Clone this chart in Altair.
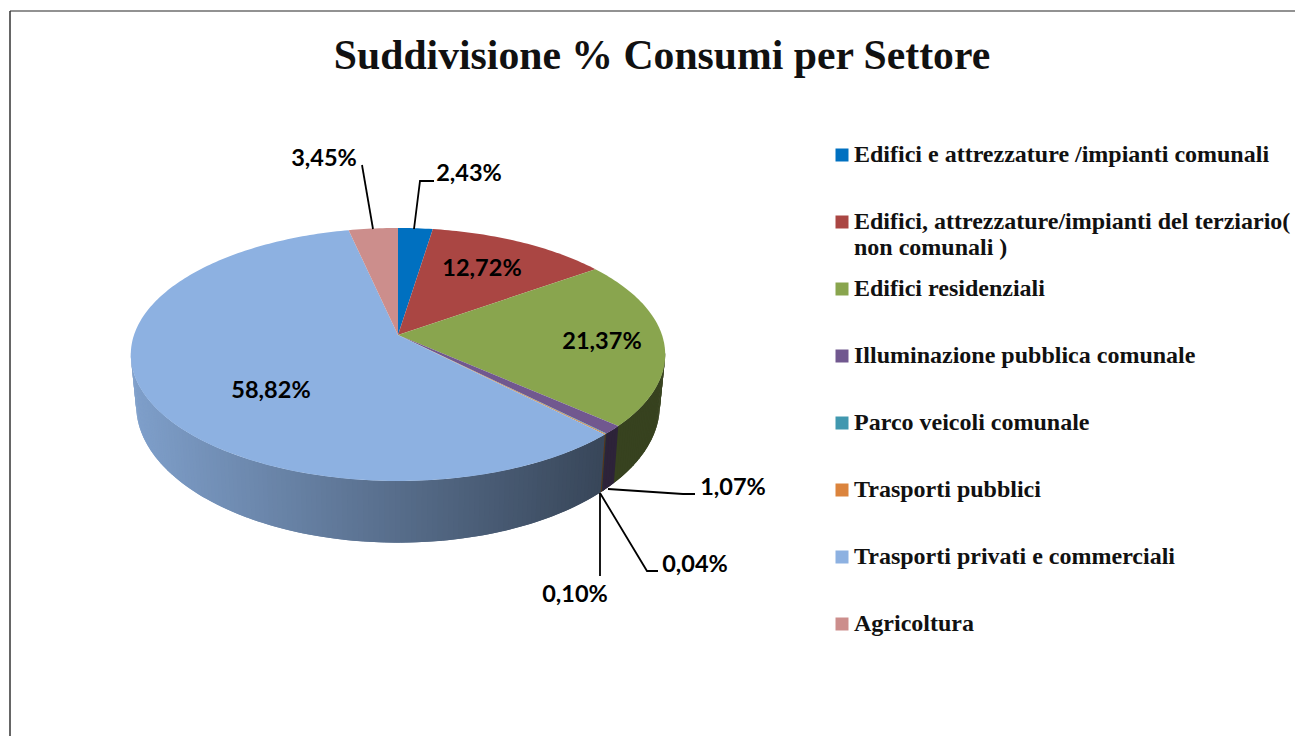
import math
import altair as alt

SECTORS = [
    "Edifici e attrezzature /impianti comunali",
    "Edifici, attrezzature/impianti del terziario( non comunali )",
    "Edifici residenziali",
    "Illuminazione pubblica comunale",
    "Parco veicoli comunale",
    "Trasporti pubblici",
    "Trasporti privati e commerciali",
    "Agricoltura",
]
VALUES = [2.43, 12.72, 21.37, 1.07, 0.04, 0.10, 58.82, 3.45]
COLORS = ["#0070c0", "#aa4643", "#89a54e", "#71588f", "#4198af", "#db843d", "#8db1e1", "#cc8e8c"]
LABELS = ["2,43%", "12,72%", "21,37%", "1,07%", "0,04%", "0,10%", "58,82%", "3,45%"]

# Page offset of the chart origin is 8 px. All placement below is in chart pixels.
OFF = 8
APEX = (398 - OFF, 335 - OFF)
K, A, B = 0.154, 123.5, 264.0
STEP = math.radians(1.0)


def rim(theta, bottom=False):
    X, Y = math.sin(theta), -math.cos(theta)
    w = 1 - K * Y
    sx, sy, d = (0.98, 1.087, 49) if bottom else (1, 1, 0)
    return [APEX[0] + sx * B * X / w, APEX[1] + d + sy * A * Y / w]


def angles(a, b, step):
    n = max(1, int(math.ceil((b - a) / step)))
    return [a + (b - a) * i / n for i in range(n + 1)]


def shade(color, f):
    r, g, b = [int(color[i:i + 2], 16) for i in (1, 3, 5)]
    return "#%02x%02x%02x" % (round(r * f), round(g * f), round(b * f))


def poly(points, **props):
    ring = points + [points[0]]
    return {"type": "Feature", "geometry": {"type": "Polygon", "coordinates": [ring]}, "properties": props}


def path(points, **props):
    return {"type": "Feature", "geometry": {"type": "LineString", "coordinates": points}, "properties": props}


total = sum(VALUES)
top, walls = [], []
cum = 0.0
t0 = math.radians(98.0)
t1 = math.radians(262.0)
for sector, value, color in zip(SECTORS, VALUES, COLORS):
    a = cum / total * 2 * math.pi
    cum += value
    b = cum / total * 2 * math.pi
    top.append(poly([list(APEX)] + [rim(t) for t in angles(a, b, math.radians(1))], sector=sector))
    lo, hi = max(a, t0), min(b, t1)
    if hi > lo:
        ts = angles(lo, hi, STEP)
        for u, v in zip(ts[:-1], ts[1:]):
            # each strip runs on under the one drawn after it, so no seams show
            s = max(u - STEP, t0)
            xm = (rim(u)[0] + rim(v)[0]) / 2 + OFF
            f = 0.9 - 0.5 * min(1, max(0, (xm - 131) / 470))
            strip = [rim(s), rim(v), rim(v, True), rim(s, True)]
            walls.append(poly(strip, fill=shade(color, f), order=-u))
walls.sort(key=lambda w: w["properties"]["order"])

# leader lines, page coordinates
LEADERS = [
    [(414, 229), (420, 181), (434, 181)],
    [(373, 229), (362, 165)],
    [(608, 489), (683, 494), (695, 494)],
    [(600, 493), (647, 571), (658, 571)],
    [(600, 493), (600, 576)],
]
leaders = [path([[x - OFF, y - OFF] for x, y in pts]) for pts in LEADERS]

# label centres, page coordinates
LABEL_POS = [(469, 174), (482, 269), (602, 342), (733, 488), (695, 565), (575, 595), (271, 391), (324, 159)]
label_rows = [{"lon": x - OFF, "lat": y - OFF, "text": t} for (x, y), t in zip(LABEL_POS, LABELS)]

projection = dict(type="identity", scale=1, translate=[0, 0])

wall_layer = alt.Chart(alt.Data(values=walls)).mark_geoshape(strokeWidth=0, stroke=None).encode(
    fill=alt.Color("properties.fill:N", scale=None, legend=None),
)

label_expr = (
    "datum.label == '" + SECTORS[1] + "' ? "
    "['Edifici, attrezzature/impianti del terziario(', 'non comunali )'] : datum.label"
)
top_layer = alt.Chart(alt.Data(values=top)).mark_geoshape(strokeWidth=0).encode(
    color=alt.Color(
        "properties.sector:N",
        scale=alt.Scale(domain=SECTORS, range=COLORS),
        sort=SECTORS,
        legend=alt.Legend(
            title=None,
            orient="none",
            legendX=830 - OFF,
            legendY=143 - OFF,
            symbolType="square",
            symbolSize=169,
            symbolStrokeWidth=0,
            symbolOpacity=1,
            labelFont="Liberation Serif",
            labelFontWeight="bold",
            labelFontSize=24,
            labelColor="#111111",
            labelLimit=0,
            labelOffset=0,
            rowPadding=17,
            gridAlign="all",
            labelExpr=label_expr,
        ),
    )
)

leader_layer = alt.Chart(alt.Data(values=leaders)).mark_geoshape(
    filled=False, stroke="#000000", strokeWidth=1.8
)

text_layer = alt.Chart(alt.Data(values=label_rows)).mark_text(
    font="Lato", fontWeight="bold", fontSize=23.5, color="#000000", align="center", baseline="middle"
).encode(longitude="lon:Q", latitude="lat:Q", text="text:N")

frame_top = alt.Chart(alt.Data(values=[{}])).mark_rule(color="#6e6e6e", strokeWidth=1.5).encode(
    x=alt.value(10 - OFF), x2=alt.value(1303 - OFF), y=alt.value(11 - OFF)
)
frame_left = alt.Chart(alt.Data(values=[{}])).mark_rule(color="#333333", strokeWidth=1.5).encode(
    x=alt.value(10 - OFF), y=alt.value(11 - OFF), y2=alt.value(736 - OFF)
)

chart = (
    alt.layer(wall_layer, top_layer, leader_layer, text_layer, frame_top, frame_left)
    .project(**projection)
    .resolve_scale(color="independent")
    .properties(
        width=1287,
        height=728,
        padding=0,
        background="white",
        autosize=alt.AutoSizeParams(type="none"),
        title=alt.TitleParams(
            "Suddivisione % Consumi per Settore",
            font="Liberation Serif",
            fontWeight="bold",
            fontSize=41.7,
            color="#111111",
            anchor="middle",
            frame="group",
            dx=10.5,
            dy=74,
        ),
    )
    .configure_view(stroke=None)
)

chart.save("out.html", embed_options={"renderer": "svg", "actions": False})
